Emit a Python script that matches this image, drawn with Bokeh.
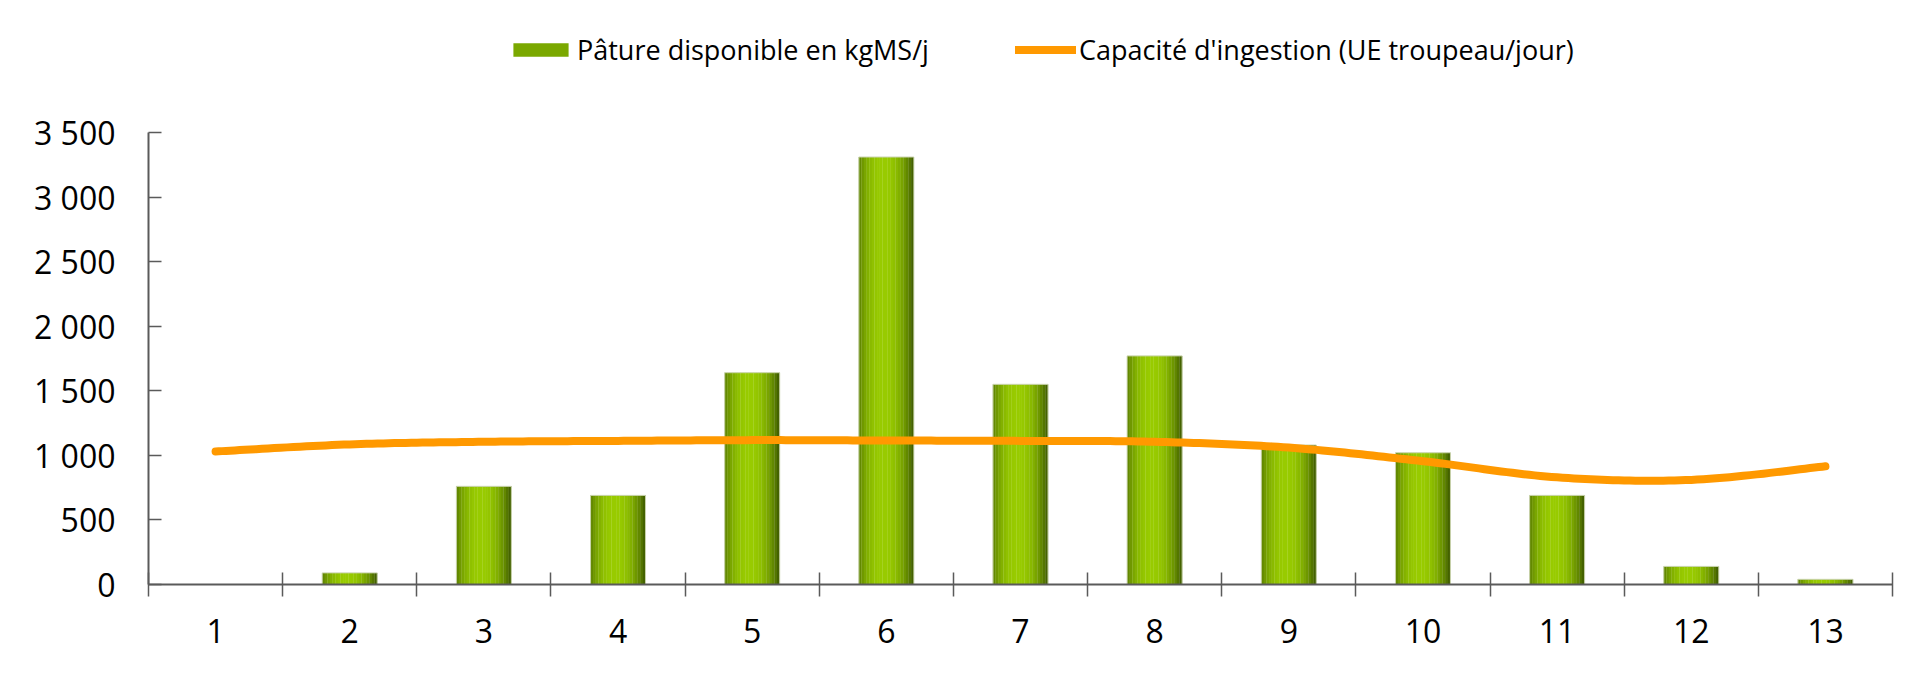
import numpy as np
from bokeh.plotting import figure
from bokeh.models import (ColumnDataSource, FixedTicker, Legend, LegendItem, Range1d)
from bokeh.embed import file_html
from bokeh.resources import INLINE

# ---- data ----
categories = list(range(1, 14))
pature = [0, 90, 760, 690, 1640, 3310, 1550, 1770, 1080, 1020, 690, 140, 40]
capacite = [1030, 1085, 1105, 1112, 1118, 1115, 1112, 1105, 1060, 955, 830, 810, 915]
y_ticks = [0, 500, 1000, 1500, 2000, 2500, 3000, 3500]
y_tick_labels = ["0", "500", "1 000", "1 500", "2 000", "2 500", "3 000", "3 500"]
x_tick_labels = [str(c) for c in categories]
label_bars = "Pâture disponible en kgMS/j"
label_line = "Capacité d'ingestion (UE troupeau/jour)"

FONT = "Open Sans"
TICK_SIZE = "32px"
LEG_SIZE = "27px"
TXT = "#000000"
AX = "#5a5a5a"

Y_MAX = 3500
TOP_PX, AXIS_TOP_PX, BOTTOM_PX = 20, 132, 584   # frame top, 3500 level, 0 level
y_end = Y_MAX * (BOTTOM_PX - TOP_PX) / (BOTTOM_PX - AXIS_TOP_PX)

p = figure(width=1900, height=683, output_backend="svg", toolbar_location=None,
           x_range=Range1d(0.5, 13.5), y_range=Range1d(0, y_end),
           min_border_left=148, min_border_right=8, min_border_top=TOP_PX,
           min_border_bottom=683 - BOTTOM_PX)
p.outline_line_color = None
p.grid.visible = False
p.background_fill_color = "white"
p.border_fill_color = "white"

# ---- bars with a horizontal gradient (drawn as narrow strips) ----
bar_w = 0.41
n_strips = 21
dark = np.array([60, 88, 0])
bright = np.array([153, 204, 0])
sw = bar_w / n_strips
for i in range(n_strips):
    t = (i + 0.5) / n_strips
    g = 1 - min(1.0, abs((t - 0.45) / 0.55)) ** 2.2
    c = (dark + (bright - dark) * g).astype(int)
    col = "#%02x%02x%02x" % tuple(c)
    off = -bar_w / 2 + sw * (i + 0.5)
    src = ColumnDataSource(dict(x=[c_ + off for c_ in categories], top=pature))
    p.vbar(x="x", top="top", width=sw * 1.1, source=src, fill_color=col,
           line_color=None)
bar_src = ColumnDataSource(dict(x=categories, top=pature))
p.vbar(x="x", top="top", width=bar_w, source=bar_src, fill_alpha=0,
       line_color="#c9d3ad", line_width=1)
swatch = p.vbar(x=[1], top=[0], width=0, fill_color="#7aa800", line_color=None)

# ---- smoothed line (Catmull-Rom through the data points) ----
xs, ys = [], []
P = [(categories[0], capacite[0])] + list(zip(categories, capacite)) + [(categories[-1], capacite[-1])]
for k in range(1, len(P) - 2):
    p0, p1, p2, p3 = [np.array(P[j], dtype=float) for j in (k - 1, k, k + 1, k + 2)]
    for s in np.linspace(0, 1, 24, endpoint=(k == len(P) - 3)):
        pt = 0.5 * ((2 * p1) + (-p0 + p2) * s + (2 * p0 - 5 * p1 + 4 * p2 - p3) * s ** 2
                    + (-p0 + 3 * p1 - 3 * p2 + p3) * s ** 3)
        xs.append(pt[0]); ys.append(pt[1])
line = p.line(xs, ys, line_color="#ff9900", line_width=8, line_cap="round",
              line_join="round")

# ---- axes ----
xa = p.xaxis[0]
xa.ticker = FixedTicker(ticks=categories, minor_ticks=[c - 0.5 for c in categories] + [13.5])
xa.major_label_overrides = {c: l for c, l in zip(categories, x_tick_labels)}
xa.major_tick_in = 0
xa.major_tick_out = 0
xa.minor_tick_in = 12
xa.minor_tick_out = 12
xa.minor_tick_line_color = AX
xa.minor_tick_line_width = 1.5
xa.axis_line_color = AX
xa.axis_line_width = 2
xa.major_label_standoff = 22
ya = p.yaxis[0]
ya.ticker = FixedTicker(ticks=y_ticks)
ya.bounds = (0, Y_MAX)
ya.major_label_overrides = {v: l for v, l in zip(y_ticks, y_tick_labels)}
ya.major_tick_in = 13
ya.major_tick_out = 0
ya.minor_tick_in = 0
ya.minor_tick_out = 0
ya.major_tick_line_color = AX
ya.major_tick_line_width = 1.5
ya.axis_line_color = AX
ya.axis_line_width = 2
ya.major_label_standoff = 33
for ax in (xa, ya):
    ax.major_label_text_font = FONT
    ax.major_label_text_font_size = TICK_SIZE
    ax.major_label_text_color = TXT

# ---- legends ----
def mk_legend(label, rend, loc, gw, gh, standoff):
    lg = Legend(items=[LegendItem(label=label, renderers=[rend])], location=loc,
                orientation="horizontal", padding=0, margin=0, spacing=0,
                border_line_alpha=0, background_fill_alpha=0,
                glyph_width=gw, glyph_height=gh, label_standoff=standoff,
                label_text_font=FONT, label_text_font_size=LEG_SIZE,
                label_text_color=TXT, click_policy="none")
    p.add_layout(lg, "center")

# location = (left, bottom) in screen px from the frame's bottom-left corner
mk_legend(label_bars, swatch, (358, 516), 69, 17, 2)
mk_legend(label_line, line, (867, 516), 61, 17, 3)

open("out.html", "w").write(file_html(p, INLINE))
